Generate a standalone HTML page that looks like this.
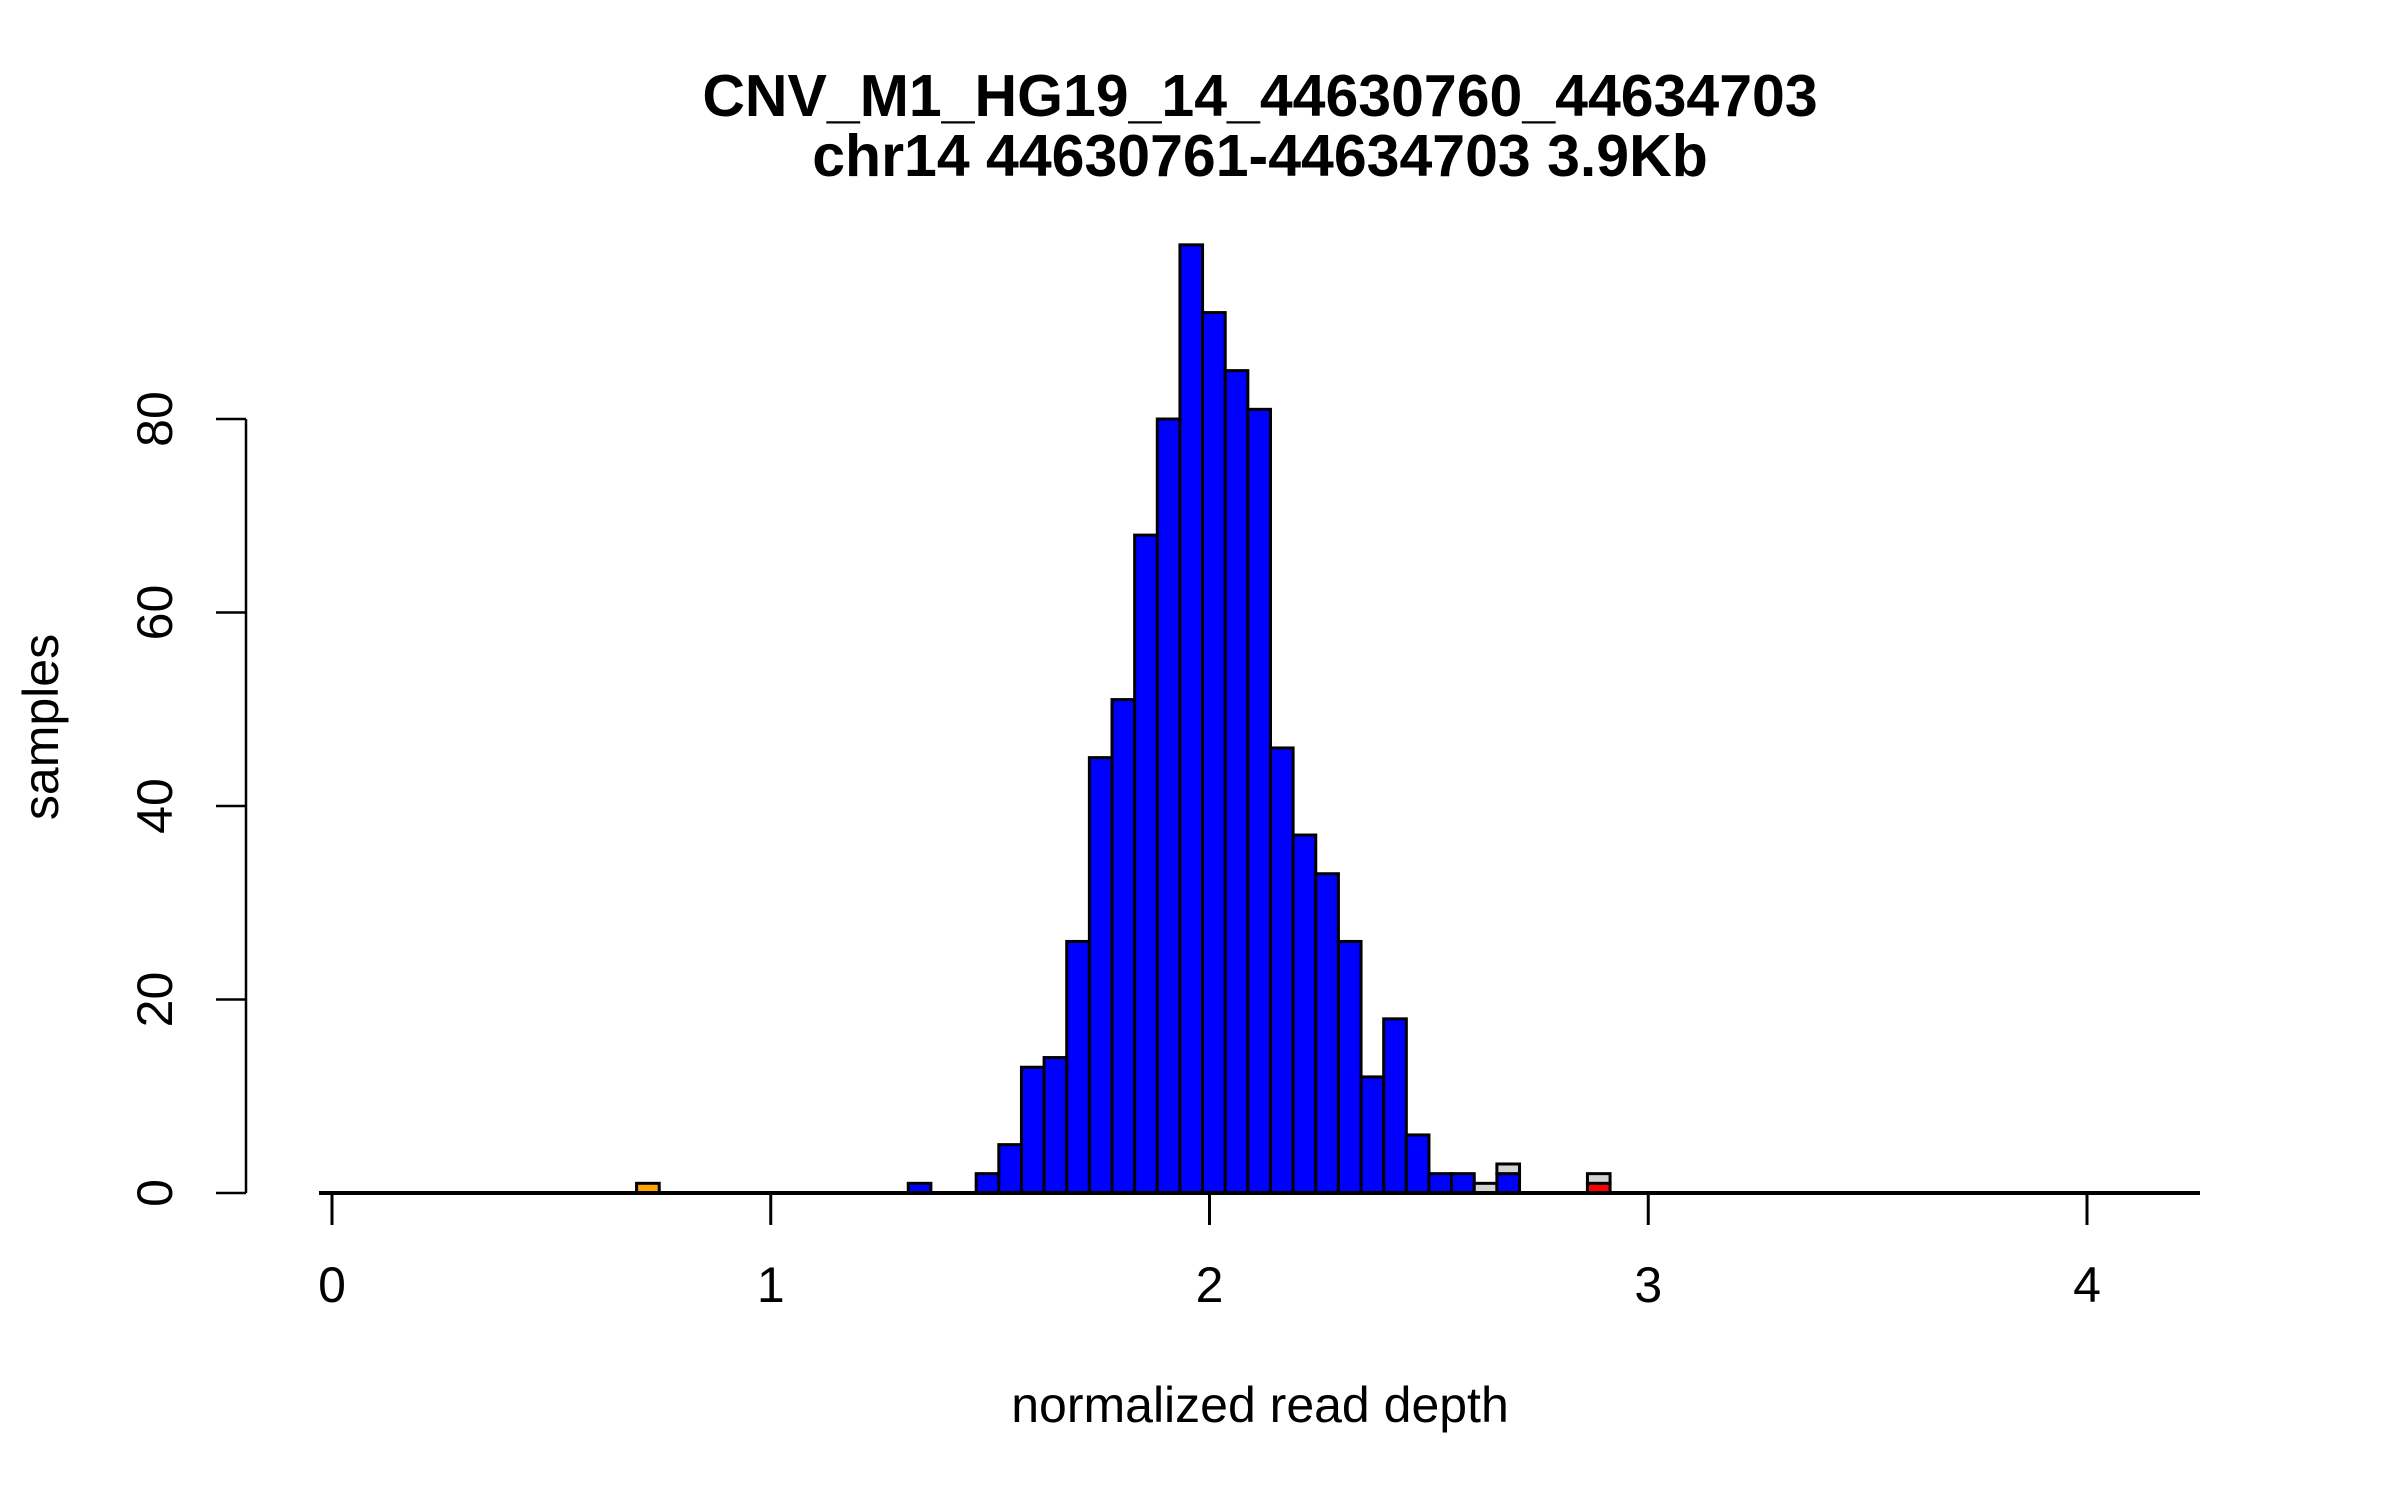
<!DOCTYPE html>
<html><head><meta charset="utf-8"><style>
html,body{margin:0;padding:0;background:#fff;}
svg{display:block;font-family:"Liberation Sans",sans-serif;}
</style></head><body>
<svg id="chart" width="2400" height="1500" viewBox="0 0 2400 1500" xmlns="http://www.w3.org/2000/svg">
<rect width="2400" height="1500" fill="#fff"/>
<text x="1260" y="116" font-size="59" font-weight="bold" text-anchor="middle">CNV_M1_HG19_14_44630760_44634703</text>
<text x="1260" y="176" font-size="59" font-weight="bold" text-anchor="middle">chr14 44630761-44634703 3.9Kb</text>
<text x="1260" y="1422" font-size="50" text-anchor="middle">normalized read depth</text>
<text transform="translate(58,727) rotate(-90)" font-size="50" text-anchor="middle">samples</text>
<g id="bars"></g>
<g id="axes"></g>
</svg>
<script>
// histogram bins: start value and width (x units); counts per bin index
const binStart = 0.6942;
const binWidth = 0.0516;
const blueCounts   = [0,0,0,0,0,0,0,0,0,0,0,0,1,0,0,2,5,13,14,26,45,51,68,80,98,91,85,81,46,37,33,26,12,18,6,2,2,0,2,0,0,0,0];
const orangeCounts = [1,0,0,0,0,0,0,0,0,0,0,0,0,0,0,0,0,0,0,0,0,0,0,0,0,0,0,0,0,0,0,0,0,0,0,0,0,0,0,0,0,0,0];
const redCounts    = [0,0,0,0,0,0,0,0,0,0,0,0,0,0,0,0,0,0,0,0,0,0,0,0,0,0,0,0,0,0,0,0,0,0,0,0,0,0,0,0,0,0,1];
const grayCounts   = [0,0,0,0,0,0,0,0,0,0,0,0,0,0,0,0,0,0,0,0,0,0,0,0,0,0,0,0,0,0,0,0,0,0,0,0,0,1,1,0,0,0,1];
const xTicks = [0,1,2,3,4];
const yTicks = [0,20,40,60,80];

const NS = "http://www.w3.org/2000/svg";
function xs(v){ return 332 + v*438.75; }
function ys(v){ return 1193 - v*9.675; }
function mk(tag, attrs, parent){
  const e = document.createElementNS(NS, tag);
  for (const k in attrs) e.setAttribute(k, attrs[k]);
  parent.appendChild(e);
  return e;
}
const bars = document.getElementById('bars');
const axes = document.getElementById('axes');
const layers = [[blueCounts,'#0000ff','blue'],[orangeCounts,'#ffa500','orange'],[redCounts,'#ff0000','red'],[grayCounts,'#d3d3d3','gray']];
const n = blueCounts.length;
for (let i=0;i<n;i++){
  let base = 0;
  const x0 = xs(binStart + i*binWidth), x1 = xs(binStart + (i+1)*binWidth);
  for (const [arr,col,nm] of layers){
    const v = arr[i];
    if (!v) continue;
    const r = mk('rect',{x:x0,y:ys(base+v),width:x1-x0,height:ys(base)-ys(base+v),fill:col,stroke:'#000','stroke-width':3},bars);
    
    
    base += v;
  }
}
// baseline
const bl = mk('line',{x1:319,x2:2200,y1:ys(0),y2:ys(0),stroke:'#000','stroke-width':4},axes);


// x axis ticks
for (const t of xTicks){
  const l = mk('line',{x1:xs(t),x2:xs(t),y1:ys(0),y2:ys(0)+32,stroke:'#000','stroke-width':3},axes);
  
  
  const tx = mk('text',{x:xs(t),y:1302,'font-size':50,'text-anchor':'middle'},axes);
  tx.textContent = t;
  
  
}
// y axis
const ya = mk('line',{x1:246,x2:246,y1:ys(yTicks[0]),y2:ys(yTicks[yTicks.length-1]),stroke:'#000','stroke-width':2.5},axes);


for (const t of yTicks){
  const l = mk('line',{x1:216,x2:246,y1:ys(t),y2:ys(t),stroke:'#000','stroke-width':2.5},axes);
  
  
  const tx = mk('text',{transform:'translate(172,'+ys(t)+') rotate(-90)','font-size':50,'text-anchor':'middle'},axes);
  tx.textContent = t;
  
  
}
</script>
</body></html>
